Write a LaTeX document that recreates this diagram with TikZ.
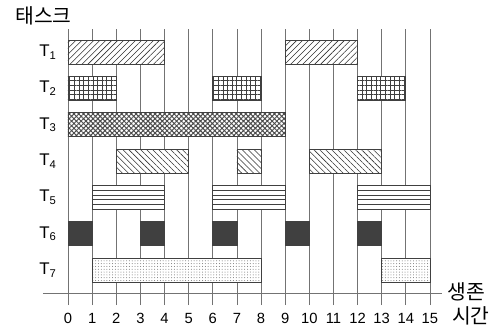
\documentclass[tikz,border=0pt]{standalone}
\usepackage{fontspec}
\setmainfont{Liberation Sans}
\newfontfamily\kofont{Noto Sans CJK KR}
\usetikzlibrary{patterns,patterns.meta}

\tikzset{
  gridline/.style={black!55,line width=0.5pt},
  bar/.style={draw=black!75,line width=0.5pt,preaction={fill=white}},
  rowlabel/.style={font=\fontsize{12}{14}\selectfont},
  numlabel/.style={font=\fontsize{10.5}{12}\selectfont},
  kolabel/.style={font=\kofont\fontsize{14.5}{17}\selectfont},
}

\begin{document}
\begin{tikzpicture}[x=0.603cm,y=1cm]
  \useasboundingbox (-2.818,-0.95) rectangle (17.53,7.325);
  % time grid
  \foreach \x in {0,...,15} {
    \draw[gridline] (\x,-0.3) -- (\x,6.6);
    \node[numlabel] (n\x) at (\x,-0.625) {\x};
  }
  \draw[gridline] (-1.036,0) -- (15.5,0);
  % task labels
  \foreach \i/\y in {1/6.025,2/5.117,3/4.209,4/3.301,5/2.393,6/1.485,7/0.577}
    \node[rowlabel] (t\i) at (-0.83,\y) {T\textsubscript{\i}};
  \node[kolabel] (task) at (-1.02,6.93) {태스크};
  \node[kolabel] (life) at (16.5,0.03) {생존};
  \node[kolabel] (time) at (16.7,-0.58) {시간};
  % T1
  \foreach \a/\b in {0/4,9/12}
    \draw[bar,pattern={Lines[angle=45,distance=3pt,line width=0.4pt]},pattern color=black!80]
      (\a,5.725) rectangle (\b,6.325);
  % T2
  \foreach \a/\b in {0/2,6/8,12/14}
    \draw[bar,pattern={Hatch[distance=3.3pt,line width=0.4pt]},pattern color=black!75]
      (\a,4.817) rectangle (\b,5.417);
  % T3
  \draw[bar,pattern={Hatch[angle=45,distance=2.4pt,line width=0.7pt]},pattern color=black!70]
    (0,3.909) rectangle (9,4.509);
  % T4
  \foreach \a/\b in {2/5,7/8,10/13}
    \draw[bar,pattern={Lines[angle=-45,distance=3pt,line width=0.4pt]},pattern color=black!80]
      (\a,3.001) rectangle (\b,3.601);
  % T5
  \foreach \a/\b in {1/4,6/9,12/15} {
    \draw[bar] (\a,2.093) rectangle (\b,2.693);
    \foreach \h in {0.12,0.24,0.36,0.48}
      \draw[black!75,line width=0.5pt] (\a,2.693-\h) -- (\b,2.693-\h);
    \draw[black!75,line width=1.2pt] (\a,2.093) -- (\b,2.093);
  }
  % T6
  \foreach \a in {0,3,6,9,12}
    \draw[bar,fill=black!75] (\a,1.185) rectangle (\a+1,1.785);
  % T7
  \foreach \a/\b in {1/8,13/15}
    \draw[bar,pattern={Dots[distance=2pt,radius=0.35pt]},pattern color=black!55]
      (\a,0.277) rectangle (\b,0.877);
\end{tikzpicture}
\end{document}
